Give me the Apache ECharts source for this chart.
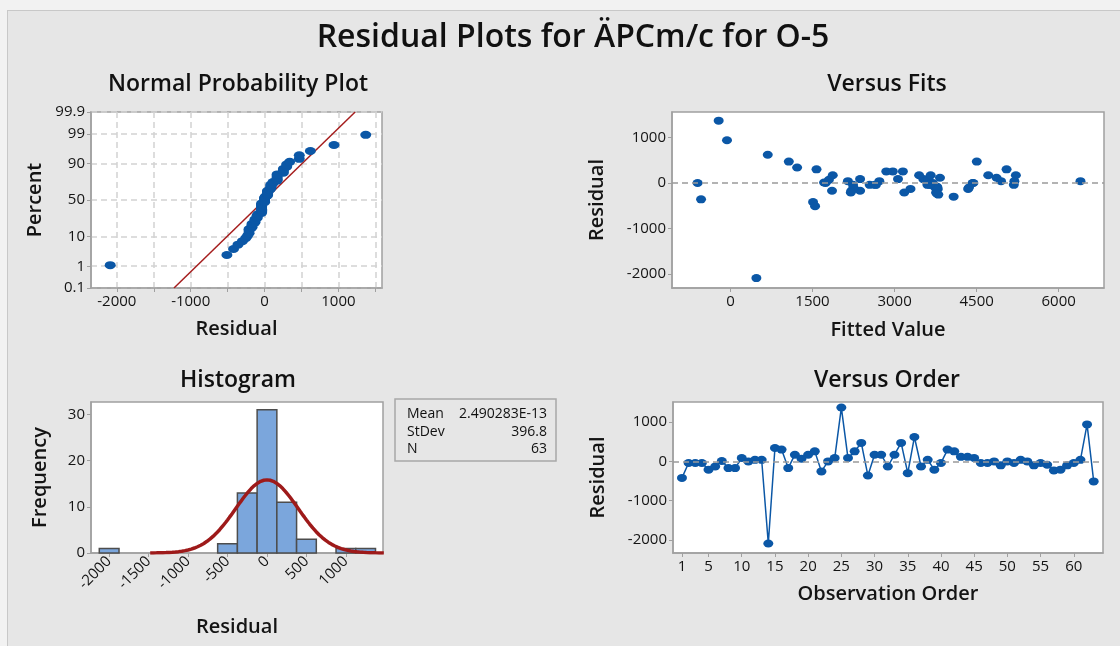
<!DOCTYPE html>
<html>
<head>
<meta charset="utf-8">
<script src="https://cdn.jsdelivr.net/npm/echarts@6/dist/echarts.min.js"></script>
<style>
  html, body { margin: 0; padding: 0; background: #f2f2f2; }
  #frame { position: absolute; left: 7px; top: 10px; width: 1120px; height: 640px; background: #e6e6e6; border: 1px solid #c8c8c8; }
  #chart { position: absolute; left: 0; top: 0; width: 1120px; height: 646px; }
</style>
</head>
<body>
<div id="frame"></div>
<div id="chart"></div>
<script>
// ---------------- data ----------------
const residuals = [
  -420, -40, -40, -40, -210, -130, 10, -170, -170, 85,
  0, 40, 40, -2090, 340, 300, -170, 170, 70, 170,
  255, -255, 0, 85, 1370, 85, 255, 470, -360, 170,
  170, -130, 170, 470, -300, 620, -130, 40, -210, -40,
  300, 255, 115, 115, 85, -40, -40, 0, -100, 0,
  -40, 40, 0, -100, -40, -85, -230, -210, -100, -40,
  40, 940, -510
];
const fittedValues = [
  1510, 2545, 2640, 3720, 3760, 3291, 1712, 2210, 2370, 3525,
  -600, 2147, 4946, 474, 1219, 1573, 1857, 4712, 1800, 5217,
  2968, 3800, 4427, 3620, -215, 2370, 3152, 1067, -537, 3449,
  1870, 4345, 3660, 4503, 4080, 682, 3790, 2722, 3177, 2240,
  5047, 2849, 4864, 3830, 3063, 3680, 2660, 4440, 2250, 3700,
  5180, 6398, 1740, 3740, 3600, 3780, 3770, 2200, 4360, 3640,
  5190, -63, 1547
];
const histBinCenters = [-2000, -500, -250, 0, 250, 500, 1000, 1250];
const histCounts     = [1, 2, 13, 31, 11, 3, 1, 1];
const histBinWidth = 250;
const statMean = 2.490283e-13;
const statStDev = 396.8;
const statN = 63;
const probTickLabels = [0.1, 1, 10, 50, 90, 99, 99.9];
const probXTicks = [-2000, -1500, -1000, -500, 0, 500, 1000, 1500];
const probXLabels = [-2000, -1000, 0, 1000];
const fitsXTicks = [0, 1500, 3000, 4500, 6000];
const residYTicks = [-2000, -1000, 0, 1000];
const histXTicks = [-2000, -1500, -1000, -500, 0, 500, 1000];
const histYTicks = [0, 10, 20, 30];
const orderXTicks = [1, 5, 10, 15, 20, 25, 30, 35, 40, 45, 50, 55, 60];

// ---------------- helpers ----------------
function normInv(p) {
  const a=[-3.969683028665376e+01,2.209460984245205e+02,-2.759285104469687e+02,1.383577518672690e+02,-3.066479806614716e+01,2.506628277459239e+00];
  const b=[-5.447609879822406e+01,1.615858368580409e+02,-1.556989798598866e+02,6.680131188771972e+01,-1.328068155288572e+01];
  const c=[-7.784894002430293e-03,-3.223964580411365e-01,-2.400758277161838e+00,-2.549732539343734e+00,4.374664141464968e+00,2.938163982698783e+00];
  const d=[7.784695709041462e-03,3.224671290700398e-01,2.445134137142996e+00,3.754408661907416e+00];
  const pl=0.02425, ph=1-pl; let q, r;
  if (p < pl) { q=Math.sqrt(-2*Math.log(p)); return (((((c[0]*q+c[1])*q+c[2])*q+c[3])*q+c[4])*q+c[5])/((((d[0]*q+d[1])*q+d[2])*q+d[3])*q+1); }
  if (p <= ph) { q=p-0.5; r=q*q; return (((((a[0]*r+a[1])*r+a[2])*r+a[3])*r+a[4])*r+a[5])*q/(((((b[0]*r+b[1])*r+b[2])*r+b[3])*r+b[4])*r+1); }
  q=Math.sqrt(-2*Math.log(1-p)); return -(((((c[0]*q+c[1])*q+c[2])*q+c[3])*q+c[4])*q+c[5])/((((d[0]*q+d[1])*q+d[2])*q+d[3])*q+1);
}
const zOf = pct => normInv(pct / 100);
const zTicks = probTickLabels.map(zOf);
const zMin = zOf(0.1), zMax = zOf(99.9);

// normal probability points (Benard median ranks)
const sorted = residuals.slice().sort((x, y) => x - y);
const nRes = sorted.length;
const probPoints = sorted.map((v, i) => [v, normInv((i + 1 - 0.3) / (nRes + 0.4))]);
const fitLine = [[statMean + zMin * statStDev, zMin], [statMean + zMax * statStDev, zMax]];

// histogram rectangles and fitted normal curve
const histData = histBinCenters.map((c, i) => [c - histBinWidth / 2, c + histBinWidth / 2, histCounts[i]]);
const curve = [];
for (let x = -1480; x <= 1480; x += 20) {
  const zz = (x - statMean) / statStDev;
  curve.push([x, statN * histBinWidth * Math.exp(-0.5 * zz * zz) / (statStDev * Math.sqrt(2 * Math.PI))]);
}
const orderData = residuals.map((v, i) => [i + 1, v]);
const fitsData = residuals.map((v, i) => [fittedValues[i], v]);

// ---------------- styling ----------------
const FONT = 'Open Sans';
const BLUE = '#0b57a6';
const AX = '#a0a0a0';
const plain = v => String(v);
const labelStyle = { color: '#141414', fontSize: 15, fontFamily: FONT, fontWeight: 500, formatter: plain };
const nameStyle = { color: '#141414', fontSize: 20, fontFamily: FONT, fontWeight: 600 };
function axisBase(extra) {
  return Object.assign({
    type: 'value',
    axisLine: { show: true, onZero: false, lineStyle: { color: AX, width: 1.5 } },
    axisTick: { show: true, length: 4, lineStyle: { color: AX, width: 1 } },
    axisLabel: Object.assign({ margin: 6 }, labelStyle),
    splitLine: { show: false },
    nameLocation: 'middle',
    nameTextStyle: nameStyle
  }, extra);
}
const gridBase = { show: true, backgroundColor: '#ffffff', borderColor: AX, borderWidth: 1.5, containLabel: false };
const zeroLine = {
  silent: true, symbol: 'none', label: { show: false },
  lineStyle: { type: [6, 4], color: '#9a9a9a', width: 1.5 },
  data: [{ yAxis: 0 }]
};

const chart = echarts.init(document.getElementById('chart'), null, { renderer: 'canvas' });
const option = {
  backgroundColor: 'transparent',
  animation: false,
  grid: [
    Object.assign({ left: 91, top: 112, width: 291, height: 176 }, gridBase),
    Object.assign({ left: 672, top: 112, width: 432, height: 176 }, gridBase),
    Object.assign({ left: 91, top: 402, width: 292, height: 151 }, gridBase),
    Object.assign({ left: 673, top: 402, width: 430, height: 151 }, gridBase)
  ],
  xAxis: [
    axisBase({ gridIndex: 0, min: -2350, max: 1590, name: 'Residual', nameGap: 31,
      axisTick: { show: true, length: 4, lineStyle: { color: AX }, customValues: probXTicks },
      axisLabel: Object.assign({ margin: 6, customValues: probXLabels }, labelStyle),
      splitLine: { show: true, lineStyle: { color: '#d2d2d2', type: [6, 4], width: 1.5 } } }),
    axisBase({ gridIndex: 1, min: -1068, max: 6828, name: 'Fitted Value', nameGap: 32,
      axisTick: { show: true, length: 4, lineStyle: { color: AX }, customValues: fitsXTicks },
      axisLabel: Object.assign({ margin: 6, customValues: fitsXTicks }, labelStyle) }),
    axisBase({ gridIndex: 2, min: -2230, max: 1470, name: 'Residual', nameGap: 64,
      axisTick: { show: true, length: 4, lineStyle: { color: AX }, customValues: histXTicks },
      axisLabel: Object.assign({ margin: 6, rotate: 45, customValues: histXTicks }, labelStyle) }),
    axisBase({ gridIndex: 3, min: -0.35, max: 64.4, name: 'Observation Order', nameGap: 31,
      axisTick: { show: true, length: 4, lineStyle: { color: AX }, customValues: orderXTicks },
      axisLabel: Object.assign({ margin: 6, customValues: orderXTicks }, labelStyle) })
  ],
  yAxis: [
    axisBase({ gridIndex: 0, min: zMin, max: zMax, name: 'Percent', nameGap: 46,
      axisTick: { show: true, length: 4, lineStyle: { color: AX }, customValues: zTicks },
      axisLabel: Object.assign({ margin: 6, customValues: zTicks }, labelStyle, {
        formatter: v => { let best = 0; zTicks.forEach((z, i) => { if (Math.abs(z - v) < Math.abs(zTicks[best] - v)) best = i; }); return String(probTickLabels[best]); } }),
      splitLine: { show: true, lineStyle: { color: '#d2d2d2', type: [6, 4], width: 1.5 } } }),
    axisBase({ gridIndex: 1, min: -2308, max: 1560, name: 'Residual', nameGap: 65,
      axisTick: { show: true, length: 4, lineStyle: { color: AX }, customValues: residYTicks },
      axisLabel: Object.assign({ margin: 6, customValues: residYTicks }, labelStyle) }),
    axisBase({ gridIndex: 2, min: 0, max: 32.7, name: 'Frequency', nameGap: 41,
      axisTick: { show: true, length: 4, lineStyle: { color: AX }, customValues: histYTicks },
      axisLabel: Object.assign({ margin: 6, customValues: histYTicks }, labelStyle) }),
    axisBase({ gridIndex: 3, min: -2331, max: 1511, name: 'Residual', nameGap: 65,
      axisTick: { show: true, length: 4, lineStyle: { color: AX }, customValues: residYTicks },
      axisLabel: Object.assign({ margin: 6, customValues: residYTicks }, labelStyle) })
  ],
  series: [
    { type: 'line', xAxisIndex: 0, yAxisIndex: 0, data: fitLine, symbol: 'none', clip: true,
      lineStyle: { color: '#a51d1d', width: 1.5 }, z: 3 },
    { type: 'scatter', xAxisIndex: 0, yAxisIndex: 0, data: probPoints, symbol: 'circle', symbolSize: [11, 8],
      itemStyle: { color: BLUE, opacity: 1 }, z: 4 },
    { type: 'scatter', xAxisIndex: 1, yAxisIndex: 1, data: fitsData, symbol: 'circle', symbolSize: [10, 8],
      itemStyle: { color: BLUE, opacity: 1 }, markLine: zeroLine, z: 4 },
    { type: 'custom', xAxisIndex: 2, yAxisIndex: 2, data: histData, encode: { x: [0, 1], y: 2 },
      renderItem: (params, api) => {
        const p0 = api.coord([api.value(0), api.value(2)]);
        const p1 = api.coord([api.value(1), 0]);
        return { type: 'rect', shape: { x: p0[0], y: p0[1], width: p1[0] - p0[0], height: p1[1] - p0[1] },
          style: { fill: '#7ba6dc', stroke: '#4d4d4d', lineWidth: 1.5 } };
      }, z: 2 },
    { type: 'line', xAxisIndex: 2, yAxisIndex: 2, data: curve, symbol: 'none', smooth: false, clip: true,
      lineStyle: { color: '#9e1a1a', width: 3.5 }, z: 3 },
    { type: 'line', xAxisIndex: 3, yAxisIndex: 3, data: orderData, symbol: 'circle', symbolSize: [10, 8],
      showAllSymbol: true,
      lineStyle: { color: BLUE, width: 1.5 }, itemStyle: { color: BLUE }, markLine: zeroLine, z: 4 }
  ],
  graphic: [
    { type: 'text', x: 573, y: 38, style: { text: 'Residual Plots for ÄPCm/c for O-5', font: '600 32px "Open Sans"', fill: '#111', textAlign: 'center', textVerticalAlign: 'middle' } },
    { type: 'text', x: 238, y: 84, style: { text: 'Normal Probability Plot', font: '600 23px "Open Sans"', fill: '#111', textAlign: 'center', textVerticalAlign: 'middle' } },
    { type: 'text', x: 887, y: 84, style: { text: 'Versus Fits', font: '600 23px "Open Sans"', fill: '#111', textAlign: 'center', textVerticalAlign: 'middle' } },
    { type: 'text', x: 238, y: 380, style: { text: 'Histogram', font: '600 23px "Open Sans"', fill: '#111', textAlign: 'center', textVerticalAlign: 'middle' } },
    { type: 'text', x: 887, y: 380, style: { text: 'Versus Order', font: '600 23px "Open Sans"', fill: '#111', textAlign: 'center', textVerticalAlign: 'middle' } },
    { type: 'rect', shape: { x: 395, y: 399, width: 161, height: 62 }, style: { fill: 'none', stroke: '#a8a8a8', lineWidth: 1.5 } },
    { type: 'text', x: 407, y: 414, style: { text: 'Mean', font: '500 14px "Open Sans"', fill: '#111', textAlign: 'left', textVerticalAlign: 'middle' } },
    { type: 'text', x: 547, y: 414, style: { text: statMean.toExponential(6).toUpperCase(), font: '500 14px "Open Sans"', fill: '#111', textAlign: 'right', textVerticalAlign: 'middle' } },
    { type: 'text', x: 407, y: 432, style: { text: 'StDev', font: '500 14px "Open Sans"', fill: '#111', textAlign: 'left', textVerticalAlign: 'middle' } },
    { type: 'text', x: 547, y: 432, style: { text: String(statStDev), font: '500 14px "Open Sans"', fill: '#111', textAlign: 'right', textVerticalAlign: 'middle' } },
    { type: 'text', x: 407, y: 449, style: { text: 'N', font: '500 14px "Open Sans"', fill: '#111', textAlign: 'left', textVerticalAlign: 'middle' } },
    { type: 'text', x: 547, y: 449, style: { text: String(statN), font: '500 14px "Open Sans"', fill: '#111', textAlign: 'right', textVerticalAlign: 'middle' } }
  ]
};
chart.setOption(option);
</script>
</body>
</html>
